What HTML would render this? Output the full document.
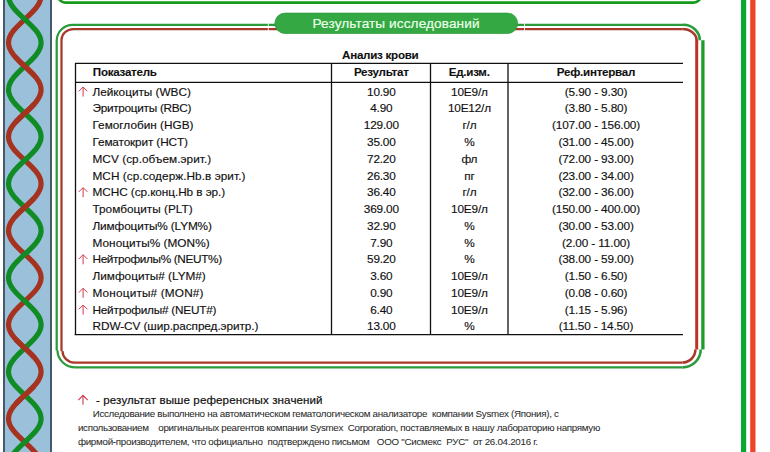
<!DOCTYPE html>
<html><head><meta charset="utf-8"><style>
html,body{margin:0;padding:0;background:#fff;width:770px;height:452px;overflow:hidden}
svg{position:absolute;left:0;top:0}
text{font-family:"Liberation Sans",sans-serif}
</style></head><body>
<svg width="770" height="452" viewBox="0 0 770 452">
<!-- DNA strip -->
<rect x="4" y="0" width="47" height="452" fill="#9ac0da"/>
<rect x="3" y="0" width="2" height="452" fill="#46586a"/>
<rect x="50" y="0" width="2" height="452" fill="#46586a"/>
<g fill="none" stroke-linecap="butt" stroke-linejoin="round" stroke-width="5.2">
<path d="M24.80 -27.68 C33.15 -20.02 41.10 -12.69 41.10 -4.19 C41.10 4.31 33.15 11.64 24.80 19.30 C16.45 26.96 8.50 34.29 8.50 42.79 C8.50 51.29 16.45 58.62 24.80 66.28 C33.15 73.94 41.10 81.27 41.10 89.77 C41.10 98.27 33.15 105.60 24.80 113.26 C16.45 120.92 8.50 128.25 8.50 136.75 C8.50 145.25 16.45 152.58 24.80 160.24 C33.15 167.90 41.10 175.23 41.10 183.73 C41.10 192.23 33.15 199.56 24.80 207.22 C16.45 214.88 8.50 222.21 8.50 230.71 C8.50 239.21 16.45 246.54 24.80 254.20 C33.15 261.86 41.10 269.19 41.10 277.69 C41.10 286.19 33.15 293.52 24.80 301.18 C16.45 308.84 8.50 316.17 8.50 324.67 C8.50 333.17 16.45 340.50 24.80 348.16 C33.15 355.82 41.10 363.15 41.10 371.65 C41.10 380.15 33.15 387.48 24.80 395.14 C16.45 402.80 8.50 410.13 8.50 418.63 C8.50 427.13 16.45 434.46 24.80 442.12 C33.15 449.78 41.10 457.11 41.10 465.61 C41.10 474.11 33.15 481.44 24.80 489.10 C16.45 496.76 8.50 504.09 8.50 512.59 C8.50 521.09 16.45 528.42 24.80 536.08" stroke="#a5331f"/>
<path d="M24.80 -27.68 C16.45 -20.02 8.50 -12.69 8.50 -4.19 C8.50 4.31 16.45 11.64 24.80 19.30 C33.15 26.96 41.10 34.29 41.10 42.79 C41.10 51.29 33.15 58.62 24.80 66.28 C16.45 73.94 8.50 81.27 8.50 89.77 C8.50 98.27 16.45 105.60 24.80 113.26 C33.15 120.92 41.10 128.25 41.10 136.75 C41.10 145.25 33.15 152.58 24.80 160.24 C16.45 167.90 8.50 175.23 8.50 183.73 C8.50 192.23 16.45 199.56 24.80 207.22 C33.15 214.88 41.10 222.21 41.10 230.71 C41.10 239.21 33.15 246.54 24.80 254.20 C16.45 261.86 8.50 269.19 8.50 277.69 C8.50 286.19 16.45 293.52 24.80 301.18 C33.15 308.84 41.10 316.17 41.10 324.67 C41.10 333.17 33.15 340.50 24.80 348.16 C16.45 355.82 8.50 363.15 8.50 371.65 C8.50 380.15 16.45 387.48 24.80 395.14 C33.15 402.80 41.10 410.13 41.10 418.63 C41.10 427.13 33.15 434.46 24.80 442.12 C16.45 449.78 8.50 457.11 8.50 465.61 C8.50 474.11 16.45 481.44 24.80 489.10 C33.15 496.76 41.10 504.09 41.10 512.59 C41.10 521.09 33.15 528.42 24.80 536.08" stroke="#118c25"/>
<g stroke="#a5331f"><path d="M15.57 57.28 L16.49 58.28 L17.45 59.28 L18.43 60.28 L19.45 61.28 L20.49 62.28 L21.55 63.28 L22.63 64.28 L23.71 65.28 L24.80 66.28 L25.89 67.28 L26.97 68.28 L28.05 69.28 L29.11 70.28 L30.15 71.28 L31.17 72.28 L32.15 73.28 L33.11 74.28 L34.03 75.28"/><path d="M34.03 104.26 L33.11 105.26 L32.15 106.26 L31.17 107.26 L30.15 108.26 L29.11 109.26 L28.05 110.26 L26.97 111.26 L25.89 112.26 L24.80 113.26 L23.71 114.26 L22.63 115.26 L21.55 116.26 L20.49 117.26 L19.45 118.26 L18.43 119.26 L17.45 120.26 L16.49 121.26 L15.57 122.26"/><path d="M34.03 198.22 L33.11 199.22 L32.15 200.22 L31.17 201.22 L30.15 202.22 L29.11 203.22 L28.05 204.22 L26.97 205.22 L25.89 206.22 L24.80 207.22 L23.71 208.22 L22.63 209.22 L21.55 210.22 L20.49 211.22 L19.45 212.22 L18.43 213.22 L17.45 214.22 L16.49 215.22 L15.57 216.22"/><path d="M15.57 339.16 L16.49 340.16 L17.45 341.16 L18.43 342.16 L19.45 343.16 L20.49 344.16 L21.55 345.16 L22.63 346.16 L23.71 347.16 L24.80 348.16 L25.89 349.16 L26.97 350.16 L28.05 351.16 L29.11 352.16 L30.15 353.16 L31.17 354.16 L32.15 355.16 L33.11 356.16 L34.03 357.16"/><path d="M34.03 386.14 L33.11 387.14 L32.15 388.14 L31.17 389.14 L30.15 390.14 L29.11 391.14 L28.05 392.14 L26.97 393.14 L25.89 394.14 L24.80 395.14 L23.71 396.14 L22.63 397.14 L21.55 398.14 L20.49 399.14 L19.45 400.14 L18.43 401.14 L17.45 402.14 L16.49 403.14 L15.57 404.14"/></g>
</g>
<!-- top frame of previous section -->
<path d="M57.9 -20 V-5 A7.6 7.6 0 0 0 65.5 2.6 H693.5 A7.6 7.6 0 0 0 701.1 -5 V-20" fill="none" stroke="#159a1c" stroke-width="2.6"/>
<!-- right double line -->
<rect x="741" y="0" width="5.2" height="452" fill="#0aa832"/>
<rect x="750.2" y="0" width="5.3" height="452" fill="#ee4428"/>
<!-- section frame -->
<g fill="none" stroke-width="2.25">
<path stroke="#2a9a3a" d="M72.7 24.8 H683 M72.7 24.8 A16 16 0 0 0 56.7 40.8 V350.6 M57.5 350.6 A18.2 16.8 0 0 0 75.7 367.4 H682.4"/>
<path stroke="#2a9a3a" stroke-width="2.6" d="M682.4 367.4 A18.3 17.8 0 0 0 700.7 349.6 M683 24.8 A16.5 15.5 0 0 1 699.8 40.3"/>
<path stroke="#a8382a" d="M73.4 29 H682.4 M73.4 29 A11.9 11 0 0 0 61.5 40 V351 M62.5 351 A11.8 11.5 0 0 0 74.3 362.5 H682.4"/>
<path stroke="#a8382a" stroke-width="2.6" d="M682.4 362.5 A13 12.9 0 0 0 695.4 349.6 M682.4 29 A14.1 11 0 0 1 696.5 40"/>
<path stroke="#1e9b2d" stroke-width="3.3" d="M702.9 349.6 V40.3"/>
<path stroke="#bc3224" stroke-width="3.0" d="M696.7 349.6 V40"/>
</g>
<rect x="267.8" y="20" width="1" height="14" fill="#fff" fill-opacity="0.85"/>
<rect x="524" y="20" width="1" height="14" fill="#fff" fill-opacity="0.85"/>
<rect x="274.8" y="13.1" width="242.9" height="20.4" rx="10.2" ry="10.2" fill="#33a843" stroke="#2c9a3c" stroke-width="0.7"/>
<text x="312.5" y="28" font-size="13.6" textLength="167" lengthAdjust="spacing" fill="#ecffe8" stroke="#ecffe8" stroke-width="0.2">Результаты исследований</text>
<!-- table -->
<g stroke="#111" stroke-width="1.3" fill="none">
<path d="M75 63.4 H683 M75 82.4 H683 M74.6 334.6 H683 M75.5 62.8 V335.2 M331.5 63 V334.6 M430.5 63 V334.6 M508 63 V334.6"/>
</g>
<g font-size="11.6" font-weight="bold" fill="#111" stroke="#111" stroke-width="0.1">
<text x="380.40" y="58.90" text-anchor="middle" textLength="76.73" lengthAdjust="spacing">Анализ крови</text>
<text x="92.80" y="76.10" text-anchor="start" textLength="64.16" lengthAdjust="spacing">Показатель</text>
<text x="381.40" y="76.10" text-anchor="middle" textLength="54.95" lengthAdjust="spacing">Результат</text>
<text x="469.30" y="76.10" text-anchor="middle" textLength="41.22" lengthAdjust="spacing">Ед.изм.</text>
<text x="596.10" y="76.10" text-anchor="middle" textLength="78.53" lengthAdjust="spacing">Реф.интервал</text>
</g>
<g font-size="11.8" fill="#111" stroke="#111" stroke-width="0.15">
<text x="92.5" y="95.70" textLength="98.40" lengthAdjust="spacing">Лейкоциты (WBC)</text>
<text x="381.40" y="95.70" text-anchor="middle" textLength="28.78" lengthAdjust="spacing">10.90</text>
<text x="469.50" y="95.70" text-anchor="middle" textLength="36.77" lengthAdjust="spacing">10E9/л</text>
<text x="596.10" y="95.70" text-anchor="middle" textLength="62.66" lengthAdjust="spacing">(5.90 - 9.30)</text>
<text x="92.5" y="112.47" textLength="99.00" lengthAdjust="spacing">Эритроциты (RBC)</text>
<text x="381.40" y="112.47" text-anchor="middle" textLength="22.39" lengthAdjust="spacing">4.90</text>
<text x="469.50" y="112.47" text-anchor="middle" textLength="43.17" lengthAdjust="spacing">10E12/л</text>
<text x="596.10" y="112.47" text-anchor="middle" textLength="62.66" lengthAdjust="spacing">(3.80 - 5.80)</text>
<text x="92.5" y="129.24" textLength="101.00" lengthAdjust="spacing">Гемоглобин (HGB)</text>
<text x="381.40" y="129.24" text-anchor="middle" textLength="35.19" lengthAdjust="spacing">129.00</text>
<text x="469.50" y="129.24" text-anchor="middle" textLength="14.11" lengthAdjust="spacing">г/л</text>
<text x="596.10" y="129.24" text-anchor="middle" textLength="88.23" lengthAdjust="spacing">(107.00 - 156.00)</text>
<text x="92.5" y="146.01" textLength="95.40" lengthAdjust="spacing">Гематокрит (HCT)</text>
<text x="381.40" y="146.01" text-anchor="middle" textLength="28.78" lengthAdjust="spacing">35.00</text>
<text x="469.50" y="146.01" text-anchor="middle" textLength="10.23" lengthAdjust="spacing">%</text>
<text x="596.10" y="146.01" text-anchor="middle" textLength="75.44" lengthAdjust="spacing">(31.00 - 45.00)</text>
<text x="92.5" y="162.78" textLength="118.70" lengthAdjust="spacing">MCV (ср.объем.эрит.)</text>
<text x="381.40" y="162.78" text-anchor="middle" textLength="28.78" lengthAdjust="spacing">72.20</text>
<text x="469.50" y="162.78" text-anchor="middle" textLength="15.92" lengthAdjust="spacing">фл</text>
<text x="596.10" y="162.78" text-anchor="middle" textLength="75.44" lengthAdjust="spacing">(72.00 - 93.00)</text>
<text x="92.5" y="179.55" textLength="152.90" lengthAdjust="spacing">MCH (ср.содерж.Hb.в эрит.)</text>
<text x="381.40" y="179.55" text-anchor="middle" textLength="28.78" lengthAdjust="spacing">26.30</text>
<text x="469.50" y="179.55" text-anchor="middle" textLength="10.42" lengthAdjust="spacing">пг</text>
<text x="596.10" y="179.55" text-anchor="middle" textLength="75.44" lengthAdjust="spacing">(23.00 - 34.00)</text>
<text x="92.5" y="196.32" textLength="132.70" lengthAdjust="spacing">MCHC (ср.конц.Hb в эр.)</text>
<text x="381.40" y="196.32" text-anchor="middle" textLength="28.78" lengthAdjust="spacing">36.40</text>
<text x="469.50" y="196.32" text-anchor="middle" textLength="14.11" lengthAdjust="spacing">г/л</text>
<text x="596.10" y="196.32" text-anchor="middle" textLength="75.44" lengthAdjust="spacing">(32.00 - 36.00)</text>
<text x="92.5" y="213.09" textLength="100.10" lengthAdjust="spacing">Тромбоциты (PLT)</text>
<text x="381.40" y="213.09" text-anchor="middle" textLength="35.19" lengthAdjust="spacing">369.00</text>
<text x="469.50" y="213.09" text-anchor="middle" textLength="36.77" lengthAdjust="spacing">10E9/л</text>
<text x="596.10" y="213.09" text-anchor="middle" textLength="88.23" lengthAdjust="spacing">(150.00 - 400.00)</text>
<text x="92.5" y="229.86" textLength="119.40" lengthAdjust="spacing">Лимфоциты% (LYM%)</text>
<text x="381.40" y="229.86" text-anchor="middle" textLength="28.78" lengthAdjust="spacing">32.90</text>
<text x="469.50" y="229.86" text-anchor="middle" textLength="10.23" lengthAdjust="spacing">%</text>
<text x="596.10" y="229.86" text-anchor="middle" textLength="75.44" lengthAdjust="spacing">(30.00 - 53.00)</text>
<text x="92.5" y="246.63" textLength="117.10" lengthAdjust="spacing">Моноциты% (MON%)</text>
<text x="381.40" y="246.63" text-anchor="middle" textLength="22.39" lengthAdjust="spacing">7.90</text>
<text x="469.50" y="246.63" text-anchor="middle" textLength="10.23" lengthAdjust="spacing">%</text>
<text x="596.10" y="246.63" text-anchor="middle" textLength="68.19" lengthAdjust="spacing">(2.00 - 11.00)</text>
<text x="92.5" y="263.40" textLength="129.60" lengthAdjust="spacing">Нейтрофилы% (NEUT%)</text>
<text x="381.40" y="263.40" text-anchor="middle" textLength="28.78" lengthAdjust="spacing">59.20</text>
<text x="469.50" y="263.40" text-anchor="middle" textLength="10.23" lengthAdjust="spacing">%</text>
<text x="596.10" y="263.40" text-anchor="middle" textLength="75.44" lengthAdjust="spacing">(38.00 - 59.00)</text>
<text x="92.5" y="280.17" textLength="113.30" lengthAdjust="spacing">Лимфоциты# (LYM#)</text>
<text x="381.40" y="280.17" text-anchor="middle" textLength="22.39" lengthAdjust="spacing">3.60</text>
<text x="469.50" y="280.17" text-anchor="middle" textLength="36.77" lengthAdjust="spacing">10E9/л</text>
<text x="596.10" y="280.17" text-anchor="middle" textLength="62.66" lengthAdjust="spacing">(1.50 - 6.50)</text>
<text x="92.5" y="296.94" textLength="111.00" lengthAdjust="spacing">Моноциты# (MON#)</text>
<text x="381.40" y="296.94" text-anchor="middle" textLength="22.39" lengthAdjust="spacing">0.90</text>
<text x="469.50" y="296.94" text-anchor="middle" textLength="36.77" lengthAdjust="spacing">10E9/л</text>
<text x="596.10" y="296.94" text-anchor="middle" textLength="62.66" lengthAdjust="spacing">(0.08 - 0.60)</text>
<text x="92.5" y="313.71" textLength="124.00" lengthAdjust="spacing">Нейтрофилы# (NEUT#)</text>
<text x="381.40" y="313.71" text-anchor="middle" textLength="22.39" lengthAdjust="spacing">6.40</text>
<text x="469.50" y="313.71" text-anchor="middle" textLength="36.77" lengthAdjust="spacing">10E9/л</text>
<text x="596.10" y="313.71" text-anchor="middle" textLength="62.66" lengthAdjust="spacing">(1.15 - 5.96)</text>
<text x="92.5" y="330.48" textLength="165.90" lengthAdjust="spacing">RDW-CV (шир.распред.эритр.)</text>
<text x="381.40" y="330.48" text-anchor="middle" textLength="28.78" lengthAdjust="spacing">13.00</text>
<text x="469.50" y="330.48" text-anchor="middle" textLength="10.23" lengthAdjust="spacing">%</text>
<text x="596.10" y="330.48" text-anchor="middle" textLength="74.59" lengthAdjust="spacing">(11.50 - 14.50)</text>
</g>
<path d="M83.1 96.60 V87.20 M78.8 91.30 L83.1 87.00 L87.4 91.30 M83.1 197.22 V187.82 M78.8 191.92 L83.1 187.62 L87.4 191.92 M83.1 264.30 V254.90 M78.8 259.00 L83.1 254.70 L87.4 259.00 M83.1 297.84 V288.44 M78.8 292.54 L83.1 288.24 L87.4 292.54 M83.1 314.61 V305.21 M78.8 309.31 L83.1 305.01 L87.4 309.31" fill="none" stroke="#d23a4c" stroke-width="1.0"/>
<!-- footer -->
<path d="M83 404.8 V395.6 M78.3 400.1 L83 395.3 L87.7 400.1" fill="none" stroke="#d23a4c" stroke-width="1.1"/>
<text x="96" y="404" font-size="11.6" textLength="226.6" lengthAdjust="spacing" fill="#111" stroke="#111" stroke-width="0.2">- результат выше референсных значений</text>
<g font-size="9.8" fill="#2a2a2a" stroke="#2a2a2a" stroke-width="0.05" style="white-space:pre">
<text x="92.7" y="417.4" textLength="466.2" lengthAdjust="spacing" xml:space="preserve">Исследование выполнено на автоматическом гематологическом анализаторе  компании Sysmex (Япония), с</text>
<text x="77.9" y="430.7" textLength="522.4" lengthAdjust="spacing" xml:space="preserve">использованием    оригинальных реагентов компании Sysmex  Corporation, поставляемых в нашу лабораторию напрямую</text>
<text x="77.9" y="444.5" textLength="460.2" lengthAdjust="spacing" xml:space="preserve">фирмой-производителем, что официально  подтверждено письмом   ООО "Сисмекс  РУС"  от 26.04.2016 г.</text>
</g>
</svg>
</body></html>
